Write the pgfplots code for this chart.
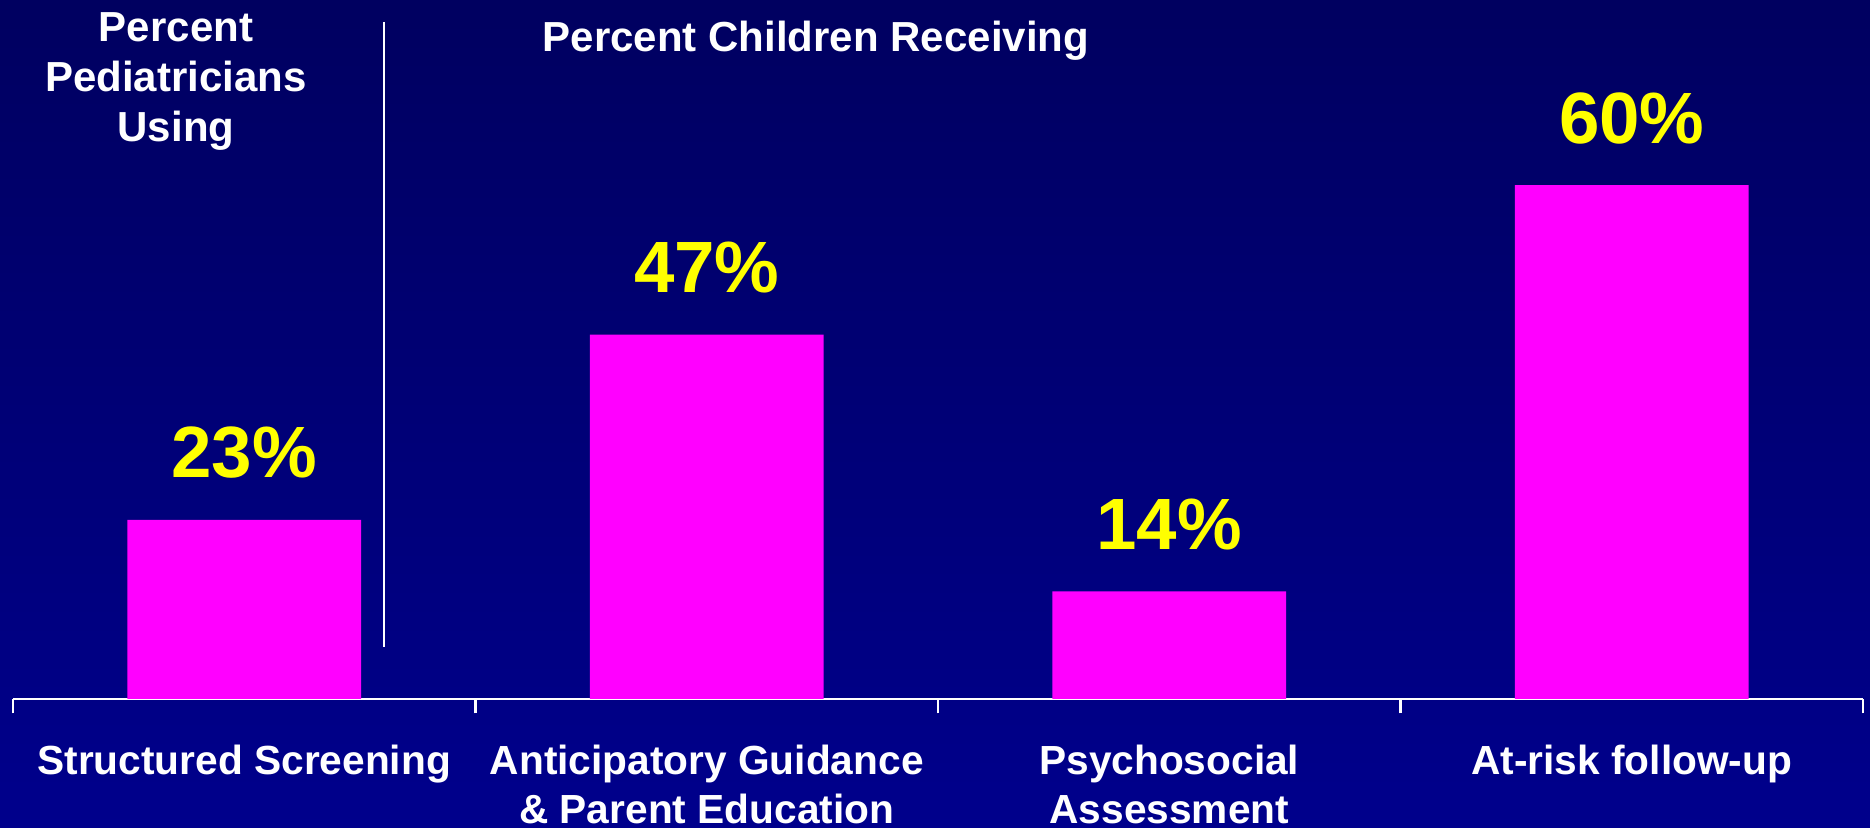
\documentclass[border=0pt]{standalone}
\usepackage{fontspec}
\setmainfont{Liberation Sans}
\usepackage{pgfplots}
\usepackage{pgfplotstable}
\pgfplotsset{compat=1.18}
\definecolor{bgtop}{RGB}{0,0,96}
\definecolor{bgbot}{RGB}{0,0,140}
\definecolor{barmag}{RGB}{255,0,255}
\definecolor{labyel}{RGB}{255,255,0}

% x = category, y = drawn bar height, lab = printed percentage
\pgfplotstableread{
x y lab
0 23.1 23
1 47.0 47
2 13.9 14
3 66.3 60
}\datatable

\begin{document}
\begin{tikzpicture}
\shade[top color=bgtop, bottom color=bgbot] (0,0) rectangle (561pt,248.4pt);
\begin{axis}[
  at={(3.9pt,38.7pt)}, anchor=south west,
  scale only axis, width=555pt, height=209.7pt,
  xmin=-0.5, xmax=3.5, ymin=0, ymax=90.19,
  ybar, bar width=0.505,
  axis y line=none, axis x line*=bottom,
  x axis line style={white, line width=0.85pt, -},
  xtick={-0.5,0.5,1.5,2.5,3.5}, xticklabels={},
  xtick style={white, line width=0.8pt},
  major tick length=4.3pt, tick align=outside,
  extra x ticks={0,1,2,3},
  extra x tick labels={{Structured Screening\\\strut}, {Anticipatory Guidance\\\& Parent Education}, {Psychosocial\\Assessment}, {At-risk follow-up\\\strut}},
  extra x tick style={major tick length=0pt},
  xticklabel style={font=\bfseries\fontsize{12.2}{14.7}\selectfont, text=white, align=center, anchor=base, yshift=-37.2pt, inner sep=0pt},
  clip=false,
]
\addplot[fill=barmag, draw=none,
  point meta=explicit symbolic,
  nodes near coords={\pgfplotspointmeta\%},
  nodes near coords style={font=\bfseries\fontsize{21.8}{21.8}\selectfont, text=labyel, anchor=base, yshift=12.6pt, inner sep=0pt}]
  table[x=x, y=y, meta=lab] {\datatable};
\end{axis}
\node[font=\bfseries\fontsize{12.6}{15}\selectfont, text=white, align=center, anchor=base] at (52.8pt,205.8pt) {Percent\\Pediatricians\\Using};
\node[font=\bfseries\fontsize{12.6}{15}\selectfont, text=white, anchor=base] at (244.8pt,232.8pt) {Percent Children Receiving};
\draw[white, line width=0.6pt] (115.2pt,241.8pt) -- (115.2pt,54.3pt);
\pgfresetboundingbox
\path[use as bounding box] (0,0) rectangle (561pt,248.4pt);
\end{tikzpicture}
\end{document}
